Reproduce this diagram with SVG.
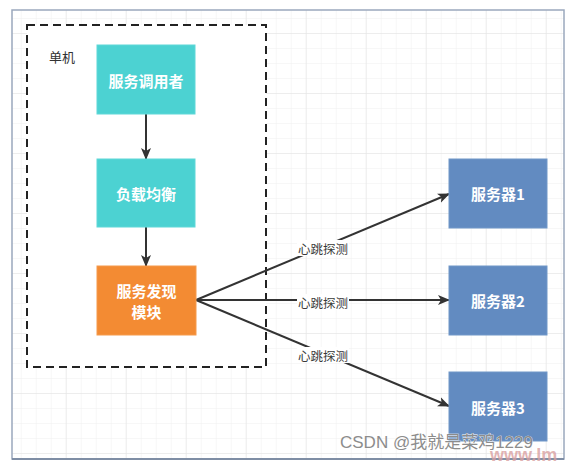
<svg xmlns="http://www.w3.org/2000/svg" width="574" height="462" viewBox="0 0 574 462">
<defs>
<pattern id="minor" x="6.7" y="4" width="15" height="15" patternUnits="userSpaceOnUse">
<path d="M15 0V15M0 15H15" fill="none" stroke="#efefef" stroke-width="1"/>
</pattern>
<pattern id="major" x="6.7" y="34" width="60" height="60" patternUnits="userSpaceOnUse">
<path d="M60 0V60M0 60H60" fill="none" stroke="#e3e3e3" stroke-width="1"/>
</pattern>
<marker id="arr" markerWidth="12" markerHeight="10" refX="11" refY="5" orient="auto" markerUnits="userSpaceOnUse">
<path d="M0 0L12 5L0 10L3 5Z" fill="#333"/>
</marker>
<clipPath id="frameclip"><rect x="12" y="10" width="552" height="449"/></clipPath>
</defs>
<style>
.box-t{fill:#fff;font-family:"Noto Sans CJK SC","Liberation Sans",sans-serif;font-size:15px;font-weight:bold;text-anchor:middle;dominant-baseline:central}
.lbl{fill:#3a3a3a;font-family:"Noto Sans CJK SC","Liberation Sans",sans-serif;font-size:12.5px;text-anchor:middle;dominant-baseline:central}
.conn{stroke:#333;stroke-width:2;fill:none}
.teal{fill:#4cd2d2;stroke:#5fd8d8;stroke-width:1}
.blue{fill:#628bc1;stroke:#7197c8;stroke-width:1}
</style>
<rect width="574" height="462" fill="#fff"/>
<g id="frame">
<rect x="12" y="10" width="552" height="449" fill="#fff"/>
<g clip-path="url(#frameclip)">
<rect x="12" y="10" width="552" height="449" fill="url(#minor)"/>
<rect x="12" y="10" width="552" height="449" fill="url(#major)"/>
</g>
<rect x="12" y="10" width="552" height="449" fill="none" stroke="#9aa8bd" stroke-width="1.5"/>
<line x1="12" y1="459" x2="564" y2="459" stroke="#7f8ea5" stroke-width="2"/>
</g>
<g id="container">
<rect x="27" y="25" width="239" height="342" fill="#fff" stroke="#222" stroke-width="2" stroke-dasharray="8 5"/>
<text x="49" y="56" font-family="'Noto Sans CJK SC','Liberation Sans',sans-serif" font-size="13" fill="#333" dominant-baseline="central">单机</text>
</g>
<g id="connectors">
<line class="conn" x1="196" y1="300" x2="449" y2="194" marker-end="url(#arr)"/>
<line class="conn" x1="196" y1="300" x2="449" y2="300" marker-end="url(#arr)"/>
<line class="conn" x1="196" y1="300" x2="449" y2="406" marker-end="url(#arr)"/>
<line class="conn" x1="146" y1="114" x2="146" y2="159" marker-end="url(#arr)"/>
<line class="conn" x1="146" y1="227" x2="146" y2="266" marker-end="url(#arr)"/>
<rect x="297" y="240" width="52" height="16" fill="#fff"/>
<text class="lbl" x="323" y="248">心跳探测</text>
<rect x="297" y="294" width="52" height="16" fill="#fff"/>
<text class="lbl" x="323" y="302">心跳探测</text>
<rect x="297" y="347" width="52" height="16" fill="#fff"/>
<text class="lbl" x="323" y="355">心跳探测</text>
</g>
<g id="caller">
<rect class="teal" x="97" y="45" width="98" height="69"/>
<text class="box-t" x="146" y="80">服务调用者</text>
</g>
<g id="lb">
<rect class="teal" x="97" y="159" width="98" height="68"/>
<text class="box-t" x="146" y="193">负载均衡</text>
</g>
<g id="discovery">
<rect x="97" y="266" width="99" height="69" fill="#f38b33" stroke="#f59a4c" stroke-width="1"/>
<text class="box-t" x="146.5" y="290">服务发现</text>
<text class="box-t" x="146.5" y="311">模块</text>
</g>
<g id="server1">
<rect class="blue" x="449" y="159" width="98" height="69"/>
<text class="box-t" x="498" y="193.5">服务器1</text>
</g>
<g id="server2">
<rect class="blue" x="449" y="266" width="98" height="69"/>
<text class="box-t" x="498" y="300">服务器2</text>
</g>
<g id="server3">
<rect class="blue" x="449" y="372" width="98" height="69"/>
<text class="box-t" x="498" y="407">服务器3</text>
</g>
<g id="watermark">
<text x="340" y="448" font-family="'Liberation Sans','Noto Sans CJK SC',sans-serif" font-size="17" fill="#8c8c8c" stroke="#fff" stroke-width="0.6" paint-order="stroke">CSDN @我就是菜鸡1229</text>
<text x="490" y="461" font-family="'Liberation Sans',sans-serif" font-size="18" font-weight="bold" fill="#d9a0a0" fill-opacity="0.8">www.lm</text>
</g>
</svg>
